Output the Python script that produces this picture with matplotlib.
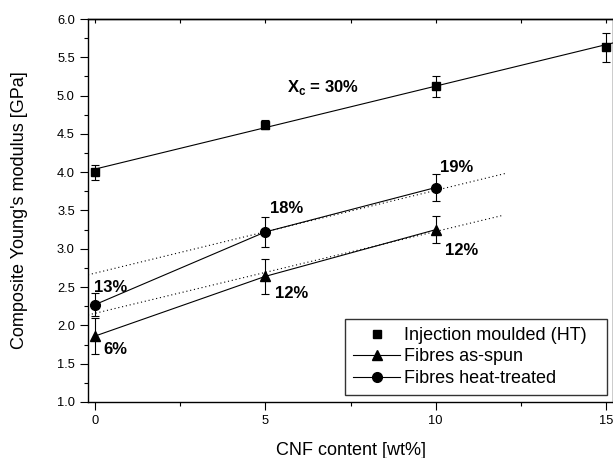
import numpy as np
import matplotlib
matplotlib.use('Agg')
import matplotlib.pyplot as plt
from matplotlib.ticker import MultipleLocator, FormatStrFormatter
from matplotlib.lines import Line2D

plt.rcParams['font.family'] = ['Liberation Sans', 'DejaVu Sans']
plt.rcParams['mathtext.fontset'] = 'custom'
plt.rcParams['mathtext.rm'] = 'Liberation Sans'
plt.rcParams['mathtext.bf'] = 'Liberation Sans:bold'

# data
cnf = [0, 5, 10, 15]
im_E = [4.00, 4.62, 5.12, 5.63]
im_err = [0.10, 0.06, 0.14, 0.19]

fib_x = [0, 5, 10]
ht_E = [2.27, 3.22, 3.80]
ht_err = [0.15, 0.20, 0.18]
as_E = [1.86, 2.64, 3.25]
as_err = [0.24, 0.23, 0.18]

# fit lines (end points)
im_fit_x = [0, 15.5]
im_fit_y = [4.04, 5.72]
ht_fit_x = [-0.2, 12.1]
ht_fit_y = [2.66, 3.99]
as_fit_x = [-0.2, 12.0]
as_fit_y = [2.136, 3.44]

# crystallinity labels
lab_txt = ['13%', '18%', '19%', '6%', '12%', '12%']
lab_x = [-0.03, 5.15, 10.13, 0.26, 5.29, 10.28]
lab_y = [2.50, 3.52, 4.06, 1.69, 2.42, 2.975]

fig = plt.figure(figsize=(6.13, 4.58), dpi=100)
ax = fig.add_axes([0.1436, 0.1223, 0.8564, 0.8362])

lw = 0.8
ax.plot(im_fit_x, im_fit_y, color='black', lw=lw)
ax.plot(ht_fit_x, ht_fit_y, color='black', lw=lw, ls=(0, (1, 2.5)))
ax.plot(as_fit_x, as_fit_y, color='black', lw=lw, ls=(0, (1, 2.5)))

ax.errorbar(cnf, im_E, yerr=im_err, fmt='s', color='black', ms=6, capsize=3,
            elinewidth=lw, capthick=lw)
ax.errorbar(fib_x, as_E, yerr=as_err, fmt='-^', color='black', ms=7, lw=lw, capsize=3,
            elinewidth=lw, capthick=lw)
ax.errorbar(fib_x, ht_E, yerr=ht_err, fmt='-o', color='black', ms=7, lw=lw, capsize=3,
            elinewidth=lw, capthick=lw)

for t, x, y in zip(lab_txt, lab_x, lab_y):
    ax.text(x, y, t, fontsize=12, fontweight='bold', ha='left', va='center')
ax.text(6.70, 5.10, r'$\mathbf{X}_\mathbf{c}$ = 30%', fontsize=12, fontweight='bold',
        ha='center', va='center')

ax.set_xlim(-0.2, 15.2)
ax.set_ylim(1.0, 6.0)
ax.xaxis.set_major_locator(MultipleLocator(5))
ax.xaxis.set_minor_locator(MultipleLocator(2.5))
ax.yaxis.set_major_locator(MultipleLocator(0.5))
ax.yaxis.set_minor_locator(MultipleLocator(0.25))
ax.yaxis.set_major_formatter(FormatStrFormatter('%.1f'))
ax.tick_params(which='major', direction='out', length=6, width=0.8, labelsize=9.3, top=False, right=False)
ax.tick_params(which='minor', direction='out', length=3, width=0.8, top=False, right=False)
for s in ax.spines.values():
    s.set_linewidth(1.0)

sec = ax.secondary_xaxis('top')
sec.xaxis.set_major_locator(MultipleLocator(5))
sec.xaxis.set_minor_locator(MultipleLocator(2.5))
sec.tick_params(which='both', direction='in', length=3, width=0.8, labeltop=False)
sec.spines['top'].set_linewidth(1.0)

ax.set_xlabel('CNF content [wt%]', fontsize=13, labelpad=11)
ax.set_ylabel("Composite Young's modulus [GPa]", fontsize=13, labelpad=21)

handles = [
    Line2D([], [], color='black', marker='s', ls='none', ms=6),
    Line2D([], [], color='black', marker='^', ls='-', lw=lw, ms=7),
    Line2D([], [], color='black', marker='o', ls='-', lw=lw, ms=7),
]
labels = ['Injection moulded (HT)', 'Fibres as-spun', 'Fibres heat-treated']
leg = ax.legend(handles, labels, loc='lower left', bbox_to_anchor=(0.4895, 0.018, 0.499, 0.2),
                mode='expand', borderaxespad=0, fontsize=13, frameon=True, fancybox=False,
                handlelength=2.6, handletextpad=0.2, labelspacing=0.25, borderpad=0.45)
leg.get_frame().set_edgecolor('black')
leg.get_frame().set_linewidth(1.0)

fig.savefig('out.png', dpi=100)
